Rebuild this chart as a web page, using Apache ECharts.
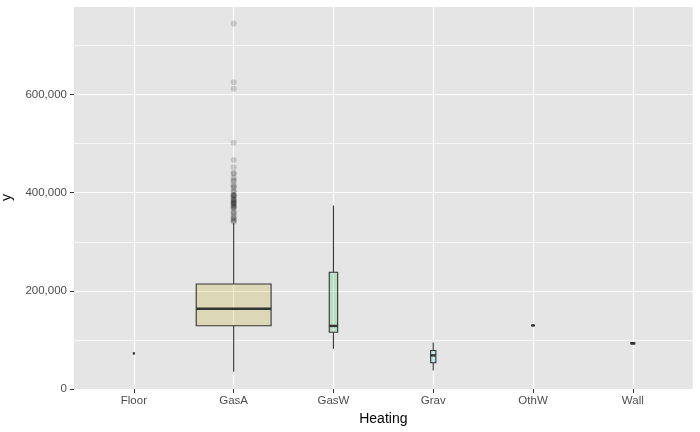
<!DOCTYPE html>
<html>
<head>
<meta charset="utf-8">
<script src="https://cdn.jsdelivr.net/npm/echarts@6/dist/echarts.min.js"></script>
<style>
  html, body { margin: 0; padding: 0; background: #fff; }
  #main { width: 700px; height: 432px; }
</style>
</head>
<body>
<div id="main"></div>
<script>
'use strict';

// heating types on the x axis
var categories = ['Floor', 'GasA', 'GasW', 'Grav', 'OthW', 'Wall'];
// houses per group (box width follows sqrt(n))
var counts = [1, 1428, 18, 7, 2, 4];
// box stats
var lowWhisker  = [72500,  34900,  82000, 37500, 128500, 91000];
var q1Values    = [72500, 129000, 115500, 53500, 129000, 92000];
var medians     = [72500, 163500, 128500, 68500, 129500, 93000];
var q3Values    = [72500, 214000, 238000, 78500, 130000, 94500];
var highWhisker = [72500, 338000, 374000, 95000, 130500, 95500];
// GasA outliers
var gasAOutliers = [745000, 625000, 611657, 501837, 466500, 451950, 440000, 438780,
    430000, 426000, 423000, 415298, 412500, 410000, 402861, 402000, 395192, 395000,
    394617, 392500, 390000, 386250, 385000, 383970, 381000, 380000, 378500, 377500,
    375000, 372500, 370878, 369900, 367294, 360000, 359100, 355000, 350000, 348000,
    345000, 342643, 341000];
var yTicks = [0, 200000, 400000, 600000];

var fillColors = ['rgba(248,118,109,0.2)', 'rgba(183,159,0,0.2)', 'rgba(0,186,56,0.2)',
                  'rgba(0,191,196,0.2)', 'rgba(97,156,255,0.2)', 'rgba(245,100,227,0.2)'];
var FONT = 'Liberation Sans, Arial, sans-serif';
var maxCount = Math.max.apply(null, counts);

function fmt(v) {
    return String(v).replace(/\B(?=(\d{3})+(?!\d))/g, ',');
}

var boxData = [];
for (var i = 0; i < categories.length; i++) {
    boxData.push([i, lowWhisker[i], q1Values[i], medians[i], q3Values[i], highWhisker[i], counts[i]]);
}
var outlierData = gasAOutliers.map(function (v) { return ['GasA', v]; });

function renderBox(params, api) {
    var x = api.value(0);
    var lo = api.coord([x, api.value(1)]);
    var q1 = api.coord([x, api.value(2)]);
    var md = api.coord([x, api.value(3)]);
    var q3 = api.coord([x, api.value(4)]);
    var hi = api.coord([x, api.value(5)]);
    var band = api.size([1, 0])[0];
    var w = band * 0.75 * Math.sqrt(api.value(6) / maxCount);
    var cx = md[0];
    var stroke = '#333333';
    return {
        type: 'group',
        children: [
            { type: 'line', shape: { x1: cx, y1: hi[1], x2: cx, y2: q3[1] }, style: { stroke: stroke, lineWidth: 1.1 } },
            { type: 'line', shape: { x1: cx, y1: q1[1], x2: cx, y2: lo[1] }, style: { stroke: stroke, lineWidth: 1.1 } },
            { type: 'rect', shape: { x: cx - w / 2, y: q3[1], width: w, height: q1[1] - q3[1] },
              style: { fill: fillColors[params.dataIndex], stroke: stroke, lineWidth: 1.1 } },
            { type: 'line', shape: { x1: cx - w / 2, y1: md[1], x2: cx + w / 2, y2: md[1] },
              style: { stroke: stroke, lineWidth: 2.4 } }
        ]
    };
}

var Y_MIN = 0, Y_MAX = 780500;

// panel spans 74..692.7; ggplot pads a discrete axis by 0.6 of a step on each side
var PANEL_L = 74, PANEL_R = 7.3;
var step = (700 - PANEL_L - PANEL_R) / (categories.length + 0.2);
var inset = step * 0.1;

var option = {
    animation: false,
    backgroundColor: '#ffffff',
    grid: [{
        left: PANEL_L, right: PANEL_R, top: 6, bottom: 43,
        containLabel: false, outerBoundsMode: 'none',
        show: true, backgroundColor: '#e5e5e5', borderWidth: 0
    }, {
        left: PANEL_L + inset, right: PANEL_R + inset, top: 6, bottom: 43,
        containLabel: false, outerBoundsMode: 'none',
        show: false
    }],
    xAxis: [{
        gridIndex: 0,
        type: 'value',
        min: 0, max: 1,
        show: false
    }, {
        gridIndex: 1,
        type: 'category',
        data: categories,
        name: 'Heating',
        nameLocation: 'middle',
        nameGap: 21,
        nameTextStyle: { color: '#000', fontSize: 14, fontFamily: FONT },
        axisLine: { show: false },
        axisTick: { show: true, alignWithLabel: true, length: 4, lineStyle: { color: '#333' } },
        axisLabel: { color: '#4d4d4d', fontSize: 11.5, margin: 6, fontFamily: FONT },
        splitLine: { show: true, alignWithLabel: true, lineStyle: { color: '#ffffff', width: 1.2 } }
    }],
    yAxis: [{
        gridIndex: 0,
        type: 'value',
        min: Y_MIN, max: Y_MAX, interval: 200000,
        name: 'y',
        nameLocation: 'middle',
        nameGap: 55,
        nameTextStyle: { color: '#000', fontSize: 14, fontFamily: FONT },
        axisLine: { show: false },
        axisTick: { show: true, length: 4, lineStyle: { color: '#333' } },
        axisLabel: {
            color: '#4d4d4d', fontSize: 11.5, margin: 7, fontFamily: FONT, showMaxLabel: false,
            formatter: function (v) { return yTicks.indexOf(v) >= 0 ? fmt(v) : ''; }
        },
        splitLine: { show: true, lineStyle: { color: '#ffffff', width: 1.2 } }
    }, {
        // thin minor grid lines every 100,000
        gridIndex: 0,
        type: 'value',
        position: 'left',
        min: Y_MIN, max: Y_MAX, interval: 100000,
        axisLine: { show: false },
        axisTick: { show: false },
        axisLabel: { show: false },
        splitLine: { show: true, lineStyle: { color: '#ffffff', width: 0.7 } }
    }, {
        // data axis for the inset grid, same scale
        gridIndex: 1,
        type: 'value',
        min: Y_MIN, max: Y_MAX,
        show: false,
        splitLine: { show: false }
    }],
    series: [{
        type: 'scatter',
        xAxisIndex: 1, yAxisIndex: 2,
        data: outlierData,
        symbol: 'circle',
        symbolSize: 6,
        itemStyle: { color: 'rgba(0,0,0,0.2)' },
        z: 2
    }, {
        type: 'custom',
        xAxisIndex: 1, yAxisIndex: 2,
        renderItem: renderBox,
        data: boxData,
        encode: { x: 0, y: [1, 2, 3, 4, 5] },
        z: 3
    }]
};

var chart = echarts.init(document.getElementById('main'));
chart.setOption(option);
</script>
</body>
</html>
